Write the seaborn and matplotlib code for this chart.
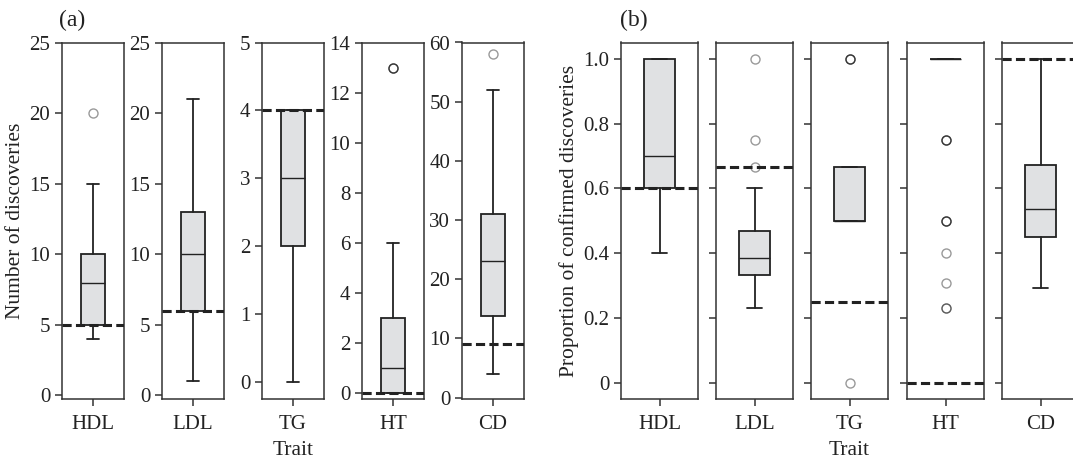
import numpy as np
import matplotlib
matplotlib.use("Agg")
import matplotlib.pyplot as plt
import seaborn as sns

sns.set_theme(context="paper", style="ticks", font="serif")
plt.rcParams["font.family"] = ["Liberation Serif", "DejaVu Serif"]

traits = ["HDL", "LDL", "TG", "HT", "CD"]

# (a) number of discoveries - box summaries
a_whislo = [4, 1, 0, 0, 4]
a_q1 = [5, 6, 2, 0, 13.8]
a_med = [8, 10, 3, 1, 23]
a_q3 = [10, 13, 4, 3, 31]
a_whishi = [15, 21, 4, 6, 52]
a_fliers = [[20], [], [], [13, 13, 13], [58]]
a_ref = [5, 6, 4, 0, 9]
a_ymax = [25, 25, 5, 14, 60]
a_ticks = [np.arange(0, 26, 5), np.arange(0, 26, 5), np.arange(0, 6, 1),
           np.arange(0, 15, 2), np.arange(0, 61, 10)]

# (b) proportion of confirmed discoveries
b_whislo = [0.4, 0.231, 0.5, 1.0, 0.294]
b_q1 = [0.6, 0.333, 0.5, 1.0, 0.451]
b_med = [0.7, 0.385, 0.5, 1.0, 0.535]
b_q3 = [1.0, 0.467, 0.667, 1.0, 0.673]
b_whishi = [1.0, 0.6, 0.667, 1.0, 1.0]
b_fliers = [[], [0.667, 0.75, 1.0], [0.0, 1.0, 1.0, 1.0],
            [0.75, 0.75, 0.75, 0.5, 0.5, 0.5, 0.4, 0.308, 0.231, 0.231], []]
b_ref = [0.6, 0.667, 0.25, 0.0, 1.0]
b_ticks = [0, 0.2, 0.4, 0.6, 0.8, 1.0]
b_ticklabels = ["0", "0.2", "0.4", "0.6", "0.8", "1.0"]

W, H = 1073, 458
fig = plt.figure(figsize=(W / 100, H / 100), dpi=100)

dark = "#222222"
box_kw = dict(
    widths=0.4, patch_artist=True, positions=[0],
    boxprops=dict(facecolor="#e0e1e3", edgecolor=dark, linewidth=1.3),
    medianprops=dict(color=dark, linewidth=1.0),
    whiskerprops=dict(color=dark, linewidth=1.3),
    capprops=dict(color=dark, linewidth=1.3),
    flierprops=dict(marker="o", markerfacecolor="none", markeredgecolor="black",
                    alpha=0.4, markersize=6.5, markeredgewidth=1.0),
)

bottom = 1 - 399 / H
height = (399 - 42.5) / H


def style_axis(ax, label):
    for s in ax.spines.values():
        s.set_color("#333333")
        s.set_linewidth(1.1)
    ax.set_xlim(-0.5, 0.5)
    ax.set_xticks([0])
    ax.set_xticklabels([label])
    ax.tick_params(axis="both", labelsize=15, colors="#333333", labelcolor="#222222",
                   length=5, width=1.1, direction="out")
    ax.tick_params(axis="x", pad=6.5)


a_lefts = [62, 162, 262, 362, 462]
for i, t in enumerate(traits):
    ax = fig.add_axes([a_lefts[i] / W, bottom, 62 / W, height])
    stats = [dict(med=a_med[i], q1=a_q1[i], q3=a_q3[i], whislo=a_whislo[i],
                  whishi=a_whishi[i], fliers=a_fliers[i])]
    ax.bxp(stats, **box_kw)
    ax.axhline(a_ref[i], ls=(0, (3, 1.4)), color=dark, lw=2.2, zorder=5)
    style_axis(ax, t)
    ax.set_ylim(-0.25, a_ymax[i])
    ax.set_yticks(a_ticks[i])
    if i == 0:
        ax.set_ylabel("Number of discoveries", fontsize=15.5, color="#222222", labelpad=3)
    if i == 2:
        ax.set_xlabel("Trait", fontsize=15.5, color="#222222", labelpad=5)

b_lefts = [621, 716, 811, 907, 1002]
for i, t in enumerate(traits):
    ax = fig.add_axes([b_lefts[i] / W, bottom, 77 / W, height])
    stats = [dict(med=b_med[i], q1=b_q1[i], q3=b_q3[i], whislo=b_whislo[i],
                  whishi=b_whishi[i], fliers=b_fliers[i])]
    ax.bxp(stats, **box_kw)
    ax.axhline(b_ref[i], ls=(0, (3, 1.4)), color=dark, lw=2.2, zorder=5)
    style_axis(ax, t)
    ax.set_ylim(-0.05, 1.05)
    ax.set_yticks(b_ticks)
    if i == 0:
        ax.set_yticklabels(b_ticklabels)
        ax.set_ylabel("Proportion of confirmed discoveries", fontsize=15.5,
                      color="#222222", labelpad=3)
    else:
        ax.set_yticklabels([])
    if i == 2:
        ax.set_xlabel("Trait", fontsize=15.5, color="#222222", labelpad=5)

fig.text(59 / W, 1 - 20 / H, "(a)", fontsize=17, color="#222222", va="center", ha="left")
fig.text(620 / W, 1 - 20 / H, "(b)", fontsize=17, color="#222222", va="center", ha="left")

fig.savefig("out.png", dpi=100)
